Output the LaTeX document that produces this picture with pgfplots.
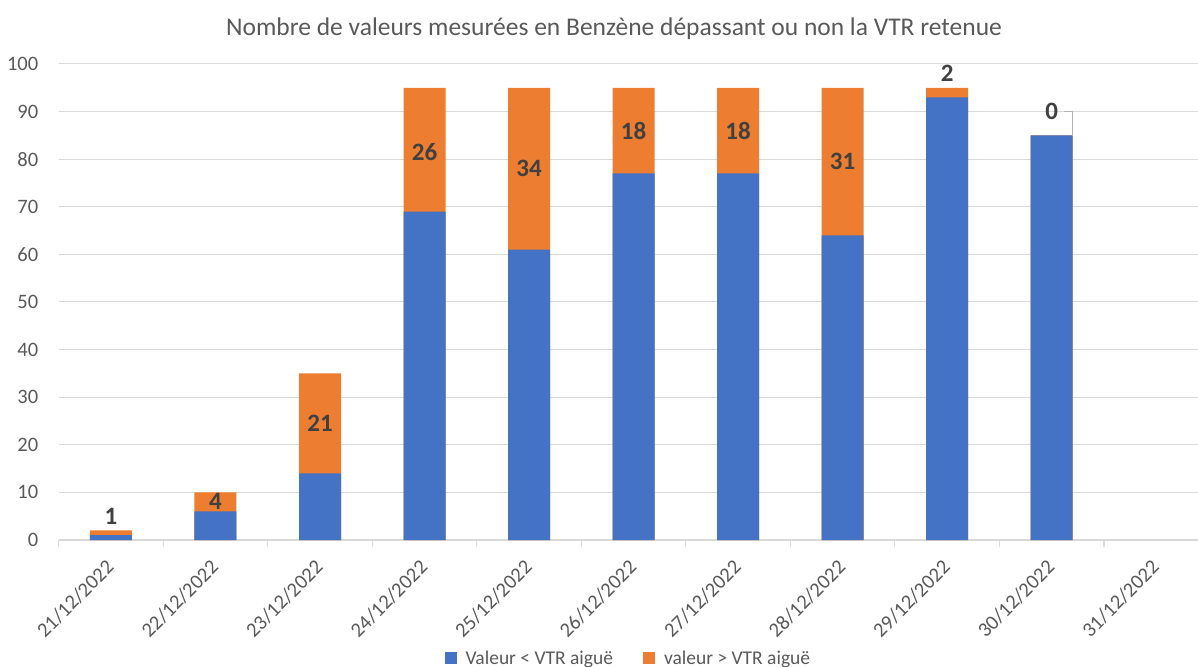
\documentclass[border=0pt]{standalone}
\usepackage{pgfplots}
\pgfplotsset{compat=1.18}
\usepackage{fontspec}
\setmainfont{Carlito}
\definecolor{cblue}{HTML}{4472C4}
\definecolor{corange}{HTML}{ED7D31}
\definecolor{ctext}{HTML}{595959}
\definecolor{clabel}{HTML}{404040}
\definecolor{cgrid}{HTML}{D9D9D9}
\begin{document}
\begin{tikzpicture}[x=1pt,y=1pt]
\useasboundingbox (0,0) rectangle (1198,666);
\node[font=\fontsize{25.5}{28}\selectfont, text=ctext] at (614,637) {Nombre de valeurs mesurées en Benzène dépassant ou non la VTR retenue};
\begin{axis}[
  at={(58.7pt,126pt)}, anchor=south west,
  scale only axis, width=1139.3pt, height=476pt,
  xmin=-0.5, xmax=10.4, ymin=0, ymax=100,
  ybar, bar width=42pt, bar shift=0pt,
  axis x line*=bottom, axis y line*=left,
  x axis line style={cgrid, line width=1.2pt},
  y axis line style={draw=none},
  ymajorgrids, grid style={cgrid, line width=1pt},
  ytick={0,10,...,100},
  ytick style={draw=none},
  xtick={0,...,10},
  xticklabels={21/12/2022,22/12/2022,23/12/2022,24/12/2022,25/12/2022,26/12/2022,27/12/2022,28/12/2022,29/12/2022,30/12/2022,31/12/2022},
  major x tick style={draw=none},
  minor xtick={-0.5,0.5,...,9.5},
  minor tick length=7pt, tick align=outside,
  minor x tick style={cgrid, line width=1.2pt},
  /pgf/number format/assume math mode=true,
  tick label style={font=\fontsize{20.5}{22}\selectfont, text=ctext},
  yticklabel style={inner sep=0pt, xshift=-16pt},
  xticklabel style={xshift=-6pt, yshift=-14pt, rotate=45, anchor=north east, inner sep=0pt},
  legend style={at={(0.5,-0.248)}, anchor=center, draw=none, fill=none,
    legend columns=2, font=\fontsize{19.5}{22}\selectfont, text=ctext,
    /tikz/every odd column/.append style={column sep=7pt},
    /tikz/every even column/.append style={column sep=28pt}},
  legend image code/.code={\fill[#1] (0pt,-6pt) rectangle (12pt,6pt);},
  clip=false,
]
% totals (blue + orange), drawn first
\addplot[fill=corange, draw=none, forget plot] coordinates {
 (0,2) (1,10) (2,35) (3,95) (4,95) (5,95) (6,95) (7,95) (8,95) (9,85)};
\addplot[fill=cblue, draw=none] coordinates {
 (0,1) (1,6) (2,14) (3,69) (4,61) (5,77) (6,77) (7,64) (8,93) (9,85)};
\addlegendentry{Valeur < VTR aiguë}
\addlegendimage{fill=corange, draw=none}
\addlegendentry{valeur > VTR aiguë}
% data labels (orange values)
\addplot[draw=none, fill=none, forget plot, nodes near coords, point meta=explicit symbolic,
  nodes near coords style={anchor=center, font=\bfseries\fontsize{25}{27}\selectfont, text=clabel}]
  coordinates {(0,5.0)[1] (1,8.2)[4] (2,24.5)[21] (3,81.5)[26] (4,78)[34] (5,86)[18] (6,86)[18] (7,79.5)[31] (8,98.1)[2] (9,90.1)[0]};
% leader line for the "0" label
\addplot[sharp plot, draw=gray!60, line width=1pt, forget plot] coordinates {(9.12,90.1) (9.2,90.1) (9.2,85)};
\end{axis}
\end{tikzpicture}
\end{document}
